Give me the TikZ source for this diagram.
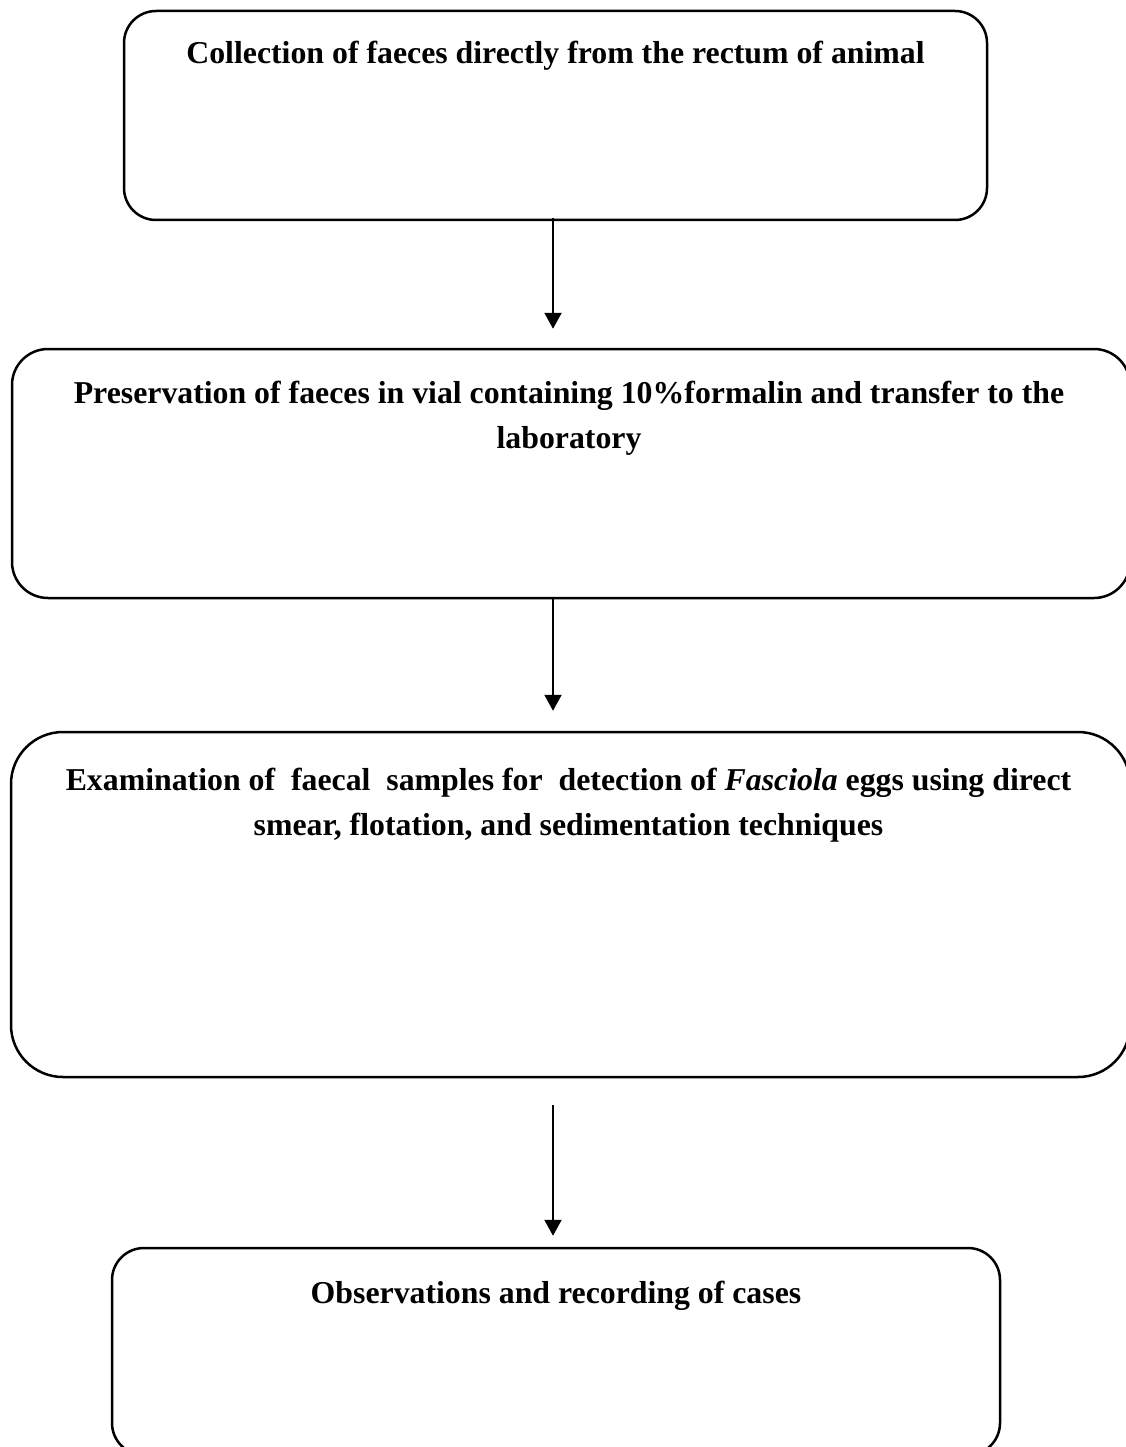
\documentclass[tikz,border=0pt]{standalone}
\usepackage{fontspec}
\setmainfont{Liberation Serif}
\usetikzlibrary{positioning,calc,arrows.meta}

\begin{document}
\begin{tikzpicture}[x=1pt,y=-1pt,
	stepbox/.style={draw,rounded corners=32pt,line width=2.5pt,inner sep=0pt},
	steptext/.style={inner sep=0pt,align=center,font=\fontsize{31.8}{45}\selectfont\bfseries},
	flow/.style={line width=2.2pt,-{Triangle[width=17pt,length=16pt]}}]
	\useasboundingbox (0,0) rectangle (1126,1447);
	
	% boxes
	\node[stepbox,minimum width=863pt,minimum height=209pt] (b1) at (555.5,115.5) {};
	\node[stepbox,minimum width=1118pt,minimum height=249pt,rounded corners=36pt] (b2) at (571,473.5) {};
	\node[stepbox,minimum width=1119pt,minimum height=345pt,rounded corners=52pt] (b3) at (570.5,904.5) {};
	\node[stepbox,minimum width=888pt,minimum height=207pt] (b4) at (556,1351.5) {};
	
	% texts
	\node[steptext,below=31pt of b1.north] (t1) {Collection of faeces directly from the rectum of animal};
	\node[steptext,below=33pt of b2.north,xshift=-2pt] (t2) {Preservation of faeces in vial containing 10\%formalin and transfer to the\\laboratory};
	\node[steptext,below=37pt of b3.north,xshift=-2pt] (t3) {Examination of~ faecal~ samples for~ detection of \textit{Fasciola} eggs using direct\\smear, flotation, and sedimentation techniques};
	\node[steptext,below=34pt of b4.north] (t4) {Observations and recording of cases};
	
	\coordinate (axis) at (553,0);
	
	\draw[flow,shorten <=-3pt,shorten >=19pt] (b1.south -| axis) -- (b2.north -| axis);
	\draw[flow,shorten >=20pt] (b2.south -| axis) -- (b3.north -| axis);
	\draw[flow,shorten <=27pt,shorten >=11pt] (b3.south -| axis) -- (b4.north -| axis);
\end{tikzpicture}
\end{document}
